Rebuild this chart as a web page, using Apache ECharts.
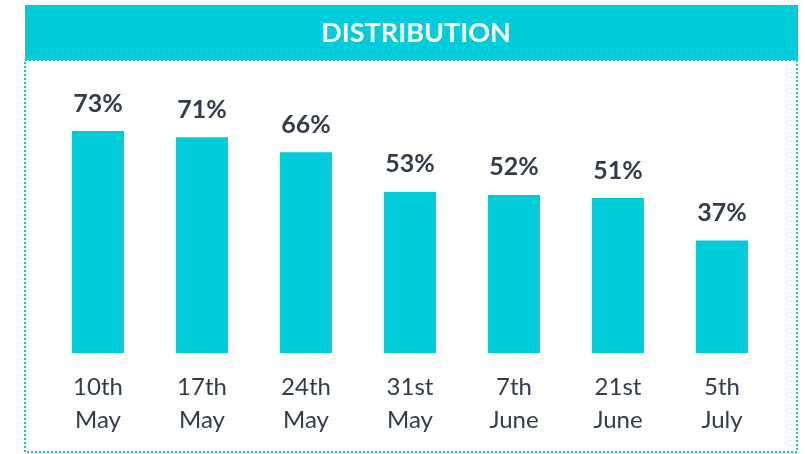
<!DOCTYPE html>
<html>
<head>
<meta charset="utf-8">
<script src="https://cdn.jsdelivr.net/npm/echarts@6/dist/echarts.min.js"></script>
<style>
  html, body { margin: 0; padding: 0; background: #fff; }
  #chart { width: 805px; height: 454px; }
</style>
</head>
<body>
<div id="chart"></div>
<script>
const categories = ["10th\nMay", "17th\nMay", "24th\nMay", "31st\nMay", "7th\nJune", "21st\nJune", "5th\nJuly"];
const values = [73, 71, 66, 53, 52, 51, 37];

const teal = "#00CCDA";
const textColor = "#333D4A";
const font = "Lato, 'Open Sans', sans-serif";

const chart = echarts.init(document.getElementById("chart"));

chart.setOption({
  animation: false,
  title: {
    text: "DISTRIBUTION",
    left: 411,
    textAlign: "center",
    top: 15,
    textStyle: { color: "#fff", fontSize: 27, fontWeight: "bold", fontFamily: font },
  },
  graphic: [
    {
      type: "rect",
      z: -1,
      shape: { x: 25, y: 5, width: 773, height: 55 },
      style: { fill: teal },
    },
    {
      type: "rect",
      z: -1,
      shape: { x: 25, y: 60, width: 772, height: 392 },
      style: { fill: "none", stroke: teal, lineWidth: 2, lineDash: [2, 2] },
    },
  ],
  grid: { left: 46, right: 31, top: 49, bottom: 101 },
  xAxis: {
    type: "category",
    data: categories,
    axisLine: { show: false },
    axisTick: { show: false },
    axisLabel: {
      color: textColor,
      fontSize: 24,
      fontFamily: font,
      lineHeight: 33,
      margin: 18,
    },
  },
  yAxis: {
    type: "value",
    min: 0,
    max: 100,
    show: false,
  },
  series: [
    {
      type: "bar",
      data: values,
      barWidth: 52,
      itemStyle: { color: teal },
      label: {
        show: true,
        position: "top",
        distance: 15,
        formatter: (p) => p.value + "%",
        color: textColor,
        fontSize: 25,
        fontWeight: "bold",
        fontFamily: font,
      },
    },
  ],
});
</script>
</body>
</html>
